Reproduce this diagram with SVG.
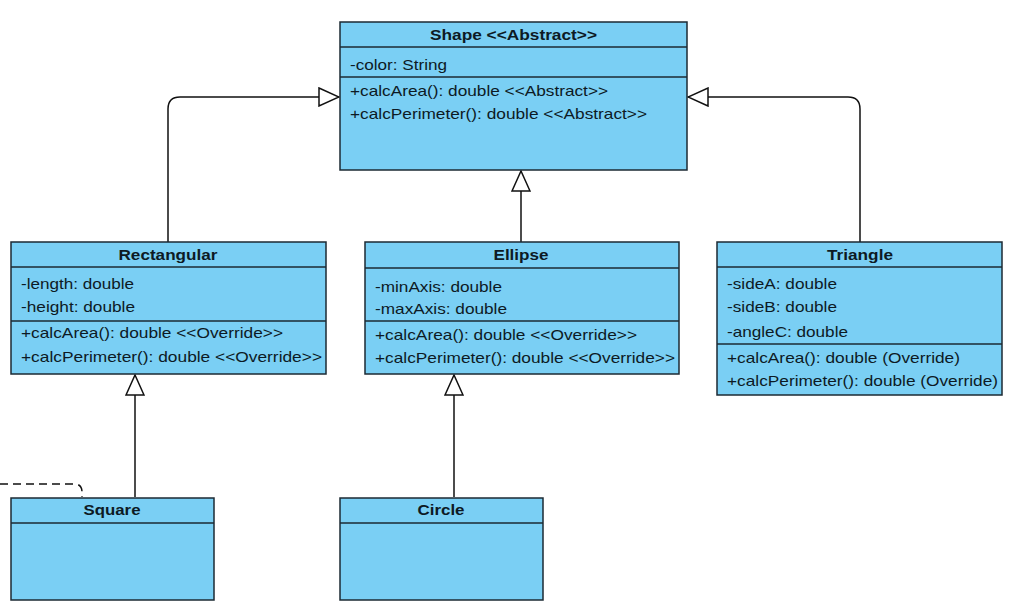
<svg xmlns="http://www.w3.org/2000/svg" width="1016" height="612" viewBox="0 0 1016 612">
<style>
.box{fill:#7ACFF4;stroke:#1c2a33;stroke-width:1.5}
.sep{stroke:#1c2a33;stroke-width:1.5}
.t{font-family:"Liberation Sans",Arial,sans-serif;font-size:15px;fill:#0d1a24}
.h{font-family:"Liberation Sans",Arial,sans-serif;font-size:15px;font-weight:bold;fill:#0d1a24;text-anchor:middle}
.c{fill:none;stroke:#111;stroke-width:1.5}
.d{fill:none;stroke:#111;stroke-width:1.5;stroke-dasharray:8 5}
</style>
<defs>
<marker id="gen" viewBox="0 0 22 20" refX="21" refY="10" markerWidth="22" markerHeight="20" markerUnits="userSpaceOnUse" orient="auto">
<path d="M1,1 L21,10 L1,19 Z" fill="#fff" stroke="#111" stroke-width="1.5"/>
</marker>
</defs>
<rect width="1016" height="612" fill="#fff"/>
<g id="connectors">
<path class="c" d="M168,242 V109 Q168,97 180,97 H339" marker-end="url(#gen)"/>
<path class="c" d="M860,242 V109 Q860,97 848,97 H688" marker-end="url(#gen)"/>
<path class="c" d="M521,242 V171" marker-end="url(#gen)"/>
<path class="c" d="M135,497 V375" marker-end="url(#gen)"/>
<path class="c" d="M454,497 V375" marker-end="url(#gen)"/>
<path class="d" d="M0,484 H74 Q82,484 82,492 V497"/>
</g>
<g id="shape">
<rect class="box" x="340" y="22" width="347" height="148"/>
<line class="sep" x1="340" y1="47" x2="687" y2="47"/>
<line class="sep" x1="340" y1="77" x2="687" y2="77"/>
<text class="h" x="513.5" y="40" textLength="167" lengthAdjust="spacingAndGlyphs">Shape &lt;&lt;Abstract&gt;&gt;</text>
<text class="t" x="350" y="70" textLength="97" lengthAdjust="spacingAndGlyphs">-color: String</text>
<text class="t" x="350" y="96" textLength="258" lengthAdjust="spacingAndGlyphs">+calcArea(): double &lt;&lt;Abstract&gt;&gt;</text>
<text class="t" x="350" y="119" textLength="297" lengthAdjust="spacingAndGlyphs">+calcPerimeter(): double &lt;&lt;Abstract&gt;&gt;</text>
</g>
<g id="rectangular">
<rect class="box" x="11" y="242" width="315" height="132"/>
<line class="sep" x1="11" y1="267" x2="326" y2="267"/>
<line class="sep" x1="11" y1="321" x2="326" y2="321"/>
<text class="h" x="168" y="260" textLength="99" lengthAdjust="spacingAndGlyphs">Rectangular</text>
<text class="t" x="21" y="289" textLength="113" lengthAdjust="spacingAndGlyphs">-length: double</text>
<text class="t" x="21" y="312" textLength="114" lengthAdjust="spacingAndGlyphs">-height: double</text>
<text class="t" x="21" y="338" textLength="262" lengthAdjust="spacingAndGlyphs">+calcArea(): double &lt;&lt;Override&gt;&gt;</text>
<text class="t" x="21" y="362" textLength="301" lengthAdjust="spacingAndGlyphs">+calcPerimeter(): double &lt;&lt;Override&gt;&gt;</text>
</g>
<g id="ellipse">
<rect class="box" x="365" y="242" width="314" height="132"/>
<line class="sep" x1="365" y1="268" x2="679" y2="268"/>
<line class="sep" x1="365" y1="321" x2="679" y2="321"/>
<text class="h" x="521" y="260" textLength="55" lengthAdjust="spacingAndGlyphs">Ellipse</text>
<text class="t" x="375" y="292" textLength="127" lengthAdjust="spacingAndGlyphs">-minAxis: double</text>
<text class="t" x="375" y="314" textLength="132" lengthAdjust="spacingAndGlyphs">-maxAxis: double</text>
<text class="t" x="375" y="340" textLength="262" lengthAdjust="spacingAndGlyphs">+calcArea(): double &lt;&lt;Override&gt;&gt;</text>
<text class="t" x="375" y="363" textLength="300" lengthAdjust="spacingAndGlyphs">+calcPerimeter(): double &lt;&lt;Override&gt;&gt;</text>
</g>
<g id="triangle">
<rect class="box" x="717" y="242" width="285" height="153"/>
<line class="sep" x1="717" y1="267" x2="1002" y2="267"/>
<line class="sep" x1="717" y1="344" x2="1002" y2="344"/>
<text class="h" x="860" y="260" textLength="66" lengthAdjust="spacingAndGlyphs">Triangle</text>
<text class="t" x="727" y="289" textLength="110" lengthAdjust="spacingAndGlyphs">-sideA: double</text>
<text class="t" x="727" y="312" textLength="110" lengthAdjust="spacingAndGlyphs">-sideB: double</text>
<text class="t" x="727" y="337" textLength="121" lengthAdjust="spacingAndGlyphs">-angleC: double</text>
<text class="t" x="727" y="363" textLength="233" lengthAdjust="spacingAndGlyphs">+calcArea(): double (Override)</text>
<text class="t" x="727" y="386" textLength="271" lengthAdjust="spacingAndGlyphs">+calcPerimeter(): double (Override)</text>
</g>
<g id="square">
<rect class="box" x="11" y="498" width="203" height="102"/>
<line class="sep" x1="11" y1="523" x2="214" y2="523"/>
<text class="h" x="112" y="515" textLength="57" lengthAdjust="spacingAndGlyphs">Square</text>
</g>
<g id="circle">
<rect class="box" x="340" y="498" width="203" height="102"/>
<line class="sep" x1="340" y1="523" x2="543" y2="523"/>
<text class="h" x="441" y="515" textLength="47" lengthAdjust="spacingAndGlyphs">Circle</text>
</g>
</svg>
